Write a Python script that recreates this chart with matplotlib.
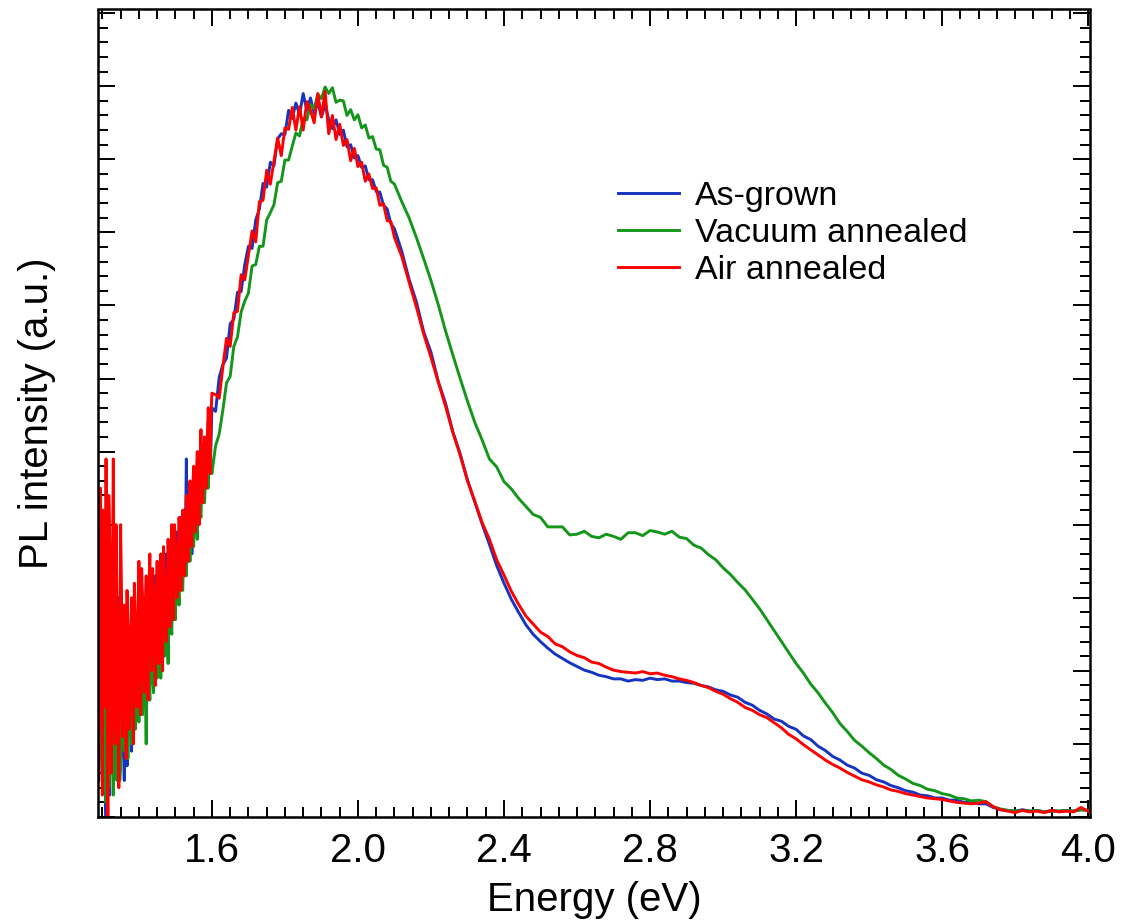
import matplotlib
matplotlib.use("Agg")
import matplotlib.pyplot as plt
from matplotlib.ticker import MultipleLocator, FormatStrFormatter, NullFormatter

plt.rcParams["font.family"] = ["Liberation Sans", "DejaVu Sans"]

# photon energy (eV): noisy low-energy part (two interleaved sets), peak part, high-energy part
energy_low = [1.290, 1.295, 1.300, 1.305, 1.310, 1.315, 1.320, 1.325, 1.330, 1.335,
              1.340, 1.345, 1.350, 1.355, 1.360, 1.365, 1.370, 1.375, 1.380, 1.385,
              1.390, 1.395, 1.400, 1.405, 1.410, 1.415, 1.420, 1.425, 1.430, 1.435,
              1.440, 1.445, 1.450, 1.455, 1.460, 1.465, 1.470, 1.475, 1.480, 1.485,
              1.490, 1.495, 1.500, 1.505, 1.510, 1.515, 1.520, 1.525, 1.530, 1.535,
              1.540, 1.545, 1.550, 1.555, 1.560, 1.565, 1.570, 1.575, 1.580, 1.585,
              1.590, 1.595, 1.600]
energy_low_b = [1.2925, 1.2975, 1.3025, 1.3075, 1.3125, 1.3175, 1.3225, 1.3275, 1.3325, 1.3375,
                1.3425, 1.3475, 1.3525, 1.3575, 1.3625, 1.3675, 1.3725, 1.3775, 1.3825, 1.3875,
                1.3925, 1.3975, 1.4025, 1.4075, 1.4125, 1.4175, 1.4225, 1.4275, 1.4325, 1.4375,
                1.4425, 1.4475, 1.4525, 1.4575, 1.4625, 1.4675, 1.4725, 1.4775, 1.4825, 1.4875,
                1.4925, 1.4975, 1.5025, 1.5075, 1.5125, 1.5175, 1.5225, 1.5275, 1.5325, 1.5375,
                1.5425, 1.5475, 1.5525, 1.5575, 1.5625, 1.5675, 1.5725, 1.5775, 1.5825, 1.5875,
                1.5925, 1.5975]
energy_mid = [1.61, 1.62, 1.63, 1.64, 1.65, 1.66, 1.67, 1.68, 1.69, 1.70,
              1.71, 1.72, 1.73, 1.74, 1.75, 1.76, 1.77, 1.78, 1.79, 1.80,
              1.81, 1.82, 1.83, 1.84, 1.85, 1.86, 1.87, 1.88, 1.89, 1.90,
              1.91, 1.92, 1.93, 1.94, 1.95, 1.96, 1.97, 1.98, 1.99, 2.00,
              2.01, 2.02, 2.03, 2.04, 2.05, 2.06, 2.07, 2.08, 2.09, 2.10]
energy_high = [2.12, 2.14, 2.16, 2.18, 2.20, 2.22, 2.24, 2.26, 2.28, 2.30,
               2.32, 2.34, 2.36, 2.38, 2.40, 2.42, 2.44, 2.46, 2.48, 2.50,
               2.52, 2.54, 2.56, 2.58, 2.60, 2.62, 2.64, 2.66, 2.68, 2.70,
               2.72, 2.74, 2.76, 2.78, 2.80, 2.82, 2.84, 2.86, 2.88, 2.90,
               2.92, 2.94, 2.96, 2.98, 3.00, 3.02, 3.04, 3.06, 3.08, 3.10,
               3.12, 3.14, 3.16, 3.18, 3.20, 3.22, 3.24, 3.26, 3.28, 3.30,
               3.32, 3.34, 3.36, 3.38, 3.40, 3.42, 3.44, 3.46, 3.48, 3.50,
               3.52, 3.54, 3.56, 3.58, 3.60, 3.62, 3.64, 3.66, 3.68, 3.70,
               3.72, 3.74, 3.76, 3.78, 3.80, 3.82, 3.84, 3.86, 3.88, 3.90,
               3.92, 3.94, 3.96, 3.98, 4.00]

# As-grown
asgrown_low = [0.05, 0.33, 0.08, 0.28, 0.00, 0.34, 0.03, 0.30, 0.10, 0.34,
               0.06, 0.26, 0.08, 0.25, 0.05, 0.24, 0.10, 0.26, 0.09, 0.25,
               0.13, 0.27, 0.14, 0.28, 0.16, 0.30, 0.17, 0.31, 0.18, 0.32,
               0.20, 0.33, 0.21, 0.34, 0.22, 0.35, 0.24, 0.36, 0.22, 0.37,
               0.28, 0.38, 0.30, 0.39, 0.31, 0.41, 0.33, 0.42, 0.49, 0.35,
               0.44, 0.36, 0.46, 0.39, 0.48, 0.41, 0.50, 0.43, 0.52, 0.45,
               0.54, 0.47, 0.56]
asgrown_low_b = [0.20, 0.12, 0.30, 0.06, 0.22, 0.10, 0.27, 0.14, 0.24, 0.18,
                 0.30, 0.12, 0.20, 0.10, 0.18, 0.07, 0.20, 0.15, 0.21, 0.17,
                 0.23, 0.19, 0.25, 0.20, 0.26, 0.22, 0.28, 0.24, 0.27, 0.25,
                 0.29, 0.26, 0.30, 0.27, 0.31, 0.29, 0.33, 0.30, 0.28, 0.32,
                 0.35, 0.33, 0.36, 0.35, 0.38, 0.36, 0.39, 0.38, 0.40, 0.41,
                 0.42, 0.40, 0.44, 0.43, 0.46, 0.45, 0.48, 0.47, 0.50, 0.49,
                 0.52, 0.51]
asgrown_mid = [0.555, 0.602, 0.619, 0.628, 0.675, 0.681, 0.718, 0.719, 0.756, 0.781,
               0.778, 0.817, 0.832, 0.867, 0.862, 0.896, 0.891, 0.928, 0.935, 0.934,
               0.967, 0.956, 0.977, 0.961, 0.990, 0.967, 0.984, 0.963, 0.978, 0.958,
               0.975, 0.954, 0.942, 0.954, 0.934, 0.940, 0.917, 0.920, 0.902, 0.905,
               0.889, 0.891, 0.872, 0.872, 0.856, 0.855, 0.837, 0.832, 0.812, 0.805]
asgrown_high = [0.774, 0.736, 0.705, 0.664, 0.636, 0.596, 0.566, 0.527, 0.497, 0.461,
                0.431, 0.401, 0.373, 0.344, 0.320, 0.298, 0.280, 0.263, 0.250, 0.240,
                0.231, 0.223, 0.217, 0.211, 0.206, 0.201, 0.198, 0.194, 0.192, 0.189,
                0.189, 0.186, 0.188, 0.187, 0.190, 0.188, 0.189, 0.186, 0.186, 0.184,
                0.183, 0.180, 0.178, 0.174, 0.172, 0.167, 0.164, 0.157, 0.153, 0.146,
                0.141, 0.134, 0.131, 0.124, 0.120, 0.111, 0.106, 0.097, 0.091, 0.083,
                0.078, 0.071, 0.067, 0.060, 0.057, 0.051, 0.048, 0.043, 0.040, 0.036,
                0.034, 0.030, 0.029, 0.026, 0.026, 0.023, 0.023, 0.020, 0.020, 0.018,
                0.018, 0.013, 0.010, 0.009, 0.008, 0.010, 0.008, 0.009, 0.007, 0.009,
                0.008, 0.009, 0.008, 0.010, 0.009]

# Vacuum annealed
vacuum_low = [0.10, 0.30, 0.05, 0.25, 0.02, 0.30, 0.06, 0.22, 0.03, 0.20,
              0.05, 0.28, 0.07, 0.22, 0.09, 0.20, 0.08, 0.24, 0.10, 0.22,
              0.12, 0.24, 0.13, 0.23, 0.14, 0.25, 0.10, 0.26, 0.16, 0.27,
              0.17, 0.28, 0.19, 0.29, 0.19, 0.30, 0.22, 0.31, 0.21, 0.33,
              0.25, 0.34, 0.27, 0.36, 0.29, 0.37, 0.31, 0.39, 0.33, 0.41,
              0.35, 0.42, 0.37, 0.44, 0.38, 0.46, 0.41, 0.48, 0.43, 0.50,
              0.45, 0.51, 0.47]
vacuum_low_b = [0.18, 0.08, 0.22, 0.10, 0.16, 0.04, 0.20, 0.09, 0.15, 0.06,
                0.14, 0.05, 0.16, 0.12, 0.17, 0.13, 0.18, 0.14, 0.20, 0.15,
                0.18, 0.19, 0.20, 0.17, 0.21, 0.18, 0.22, 0.19, 0.23, 0.21,
                0.24, 0.22, 0.25, 0.24, 0.26, 0.25, 0.28, 0.26, 0.29, 0.28,
                0.31, 0.30, 0.33, 0.32, 0.34, 0.33, 0.36, 0.35, 0.38, 0.37,
                0.39, 0.38, 0.41, 0.40, 0.43, 0.42, 0.45, 0.44, 0.47, 0.46,
                0.49, 0.48]
vacuum_mid = [0.508, 0.524, 0.557, 0.594, 0.603, 0.644, 0.657, 0.691, 0.706, 0.717,
              0.754, 0.756, 0.781, 0.781, 0.817, 0.827, 0.838, 0.868, 0.870, 0.899,
              0.899, 0.918, 0.936, 0.932, 0.956, 0.954, 0.975, 0.969, 0.989, 0.983,
              0.999, 0.990, 0.998, 0.978, 0.981, 0.980, 0.960, 0.968, 0.954, 0.961,
              0.943, 0.947, 0.929, 0.931, 0.914, 0.913, 0.892, 0.889, 0.870, 0.866]
vacuum_high = [0.842, 0.820, 0.793, 0.764, 0.734, 0.701, 0.665, 0.632, 0.600, 0.569,
               0.540, 0.516, 0.490, 0.479, 0.459, 0.449, 0.436, 0.425, 0.414, 0.410,
               0.397, 0.397, 0.397, 0.386, 0.387, 0.391, 0.384, 0.382, 0.387, 0.384,
               0.380, 0.389, 0.389, 0.385, 0.392, 0.390, 0.387, 0.391, 0.383, 0.381,
               0.372, 0.368, 0.359, 0.352, 0.341, 0.332, 0.321, 0.311, 0.298, 0.285,
               0.270, 0.255, 0.240, 0.225, 0.210, 0.197, 0.182, 0.170, 0.156, 0.143,
               0.128, 0.117, 0.105, 0.097, 0.088, 0.080, 0.071, 0.065, 0.057, 0.052,
               0.046, 0.043, 0.038, 0.036, 0.032, 0.030, 0.026, 0.025, 0.022, 0.023,
               0.021, 0.014, 0.011, 0.009, 0.008, 0.009, 0.008, 0.009, 0.007, 0.008,
               0.008, 0.009, 0.008, 0.010, 0.009]

# Air annealed
air_low = [0.12, 0.45, 0.03, 0.30, 0.49, 0.00, 0.38, 0.06, 0.49, 0.10,
           0.27, 0.04, 0.40, 0.11, 0.29, 0.08, 0.24, 0.13, 0.30, 0.10,
           0.27, 0.15, 0.35, 0.14, 0.30, 0.17, 0.33, 0.16, 0.36, 0.20,
           0.31, 0.18, 0.35, 0.21, 0.36, 0.20, 0.33, 0.24, 0.38, 0.26,
           0.40, 0.27, 0.37, 0.30, 0.41, 0.31, 0.42, 0.33, 0.44, 0.35,
           0.46, 0.37, 0.48, 0.39, 0.50, 0.40, 0.53, 0.43, 0.52, 0.45,
           0.56, 0.47, 0.58]
air_low_b = [0.28, 0.20, 0.42, 0.15, 0.26, 0.44, 0.18, 0.33, 0.22, 0.40,
             0.16, 0.24, 0.30, 0.14, 0.22, 0.31, 0.12, 0.26, 0.19, 0.32,
             0.20, 0.28, 0.23, 0.34, 0.21, 0.29, 0.24, 0.31, 0.26, 0.34,
             0.25, 0.30, 0.27, 0.33, 0.26, 0.37, 0.29, 0.31, 0.33, 0.35,
             0.32, 0.40, 0.34, 0.36, 0.38, 0.35, 0.40, 0.37, 0.41, 0.43,
             0.40, 0.45, 0.43, 0.47, 0.44, 0.49, 0.47, 0.50, 0.49, 0.52,
             0.51, 0.55]
air_mid = [0.578, 0.573, 0.616, 0.655, 0.644, 0.690, 0.692, 0.742, 0.735, 0.769,
           0.802, 0.787, 0.842, 0.844, 0.885, 0.866, 0.898, 0.929, 0.905, 0.943,
           0.941, 0.971, 0.940, 0.972, 0.940, 0.979, 0.967, 0.950, 0.990, 0.958,
           0.993, 0.935, 0.960, 0.927, 0.948, 0.919, 0.927, 0.898, 0.915, 0.890,
           0.896, 0.870, 0.880, 0.860, 0.861, 0.837, 0.839, 0.816, 0.815, 0.793]
air_high = [0.767, 0.732, 0.698, 0.661, 0.629, 0.595, 0.562, 0.526, 0.495, 0.460,
            0.432, 0.403, 0.380, 0.352, 0.331, 0.309, 0.291, 0.275, 0.264, 0.253,
            0.247, 0.237, 0.233, 0.226, 0.221, 0.218, 0.212, 0.210, 0.205, 0.201,
            0.199, 0.198, 0.197, 0.199, 0.196, 0.197, 0.194, 0.192, 0.189, 0.187,
            0.184, 0.180, 0.177, 0.172, 0.168, 0.162, 0.157, 0.150, 0.146, 0.140,
            0.136, 0.129, 0.122, 0.113, 0.107, 0.099, 0.092, 0.085, 0.078, 0.072,
            0.067, 0.061, 0.056, 0.051, 0.048, 0.044, 0.041, 0.037, 0.035, 0.032,
            0.030, 0.028, 0.026, 0.025, 0.024, 0.022, 0.020, 0.019, 0.018, 0.019,
            0.021, 0.014, 0.010, 0.008, 0.006, 0.009, 0.007, 0.008, 0.006, 0.009,
            0.007, 0.008, 0.007, 0.013, 0.008]

labels = ["As-grown", "Vacuum annealed", "Air annealed"]
colors = ["#1535c0", "#14961a", "#ff0000"]

low_sets = [(asgrown_low, asgrown_low_b), (vacuum_low, vacuum_low_b), (air_low, air_low_b)]
rest_sets = [asgrown_mid + asgrown_high, vacuum_mid + vacuum_high, air_mid + air_high]

fig = plt.figure(figsize=(11.23, 9.22), dpi=100)
ax = fig.add_axes([98 / 1123, 1 - 817 / 922, 992 / 1123, 807.5 / 922])

for (la, lb), rest, lab, c in zip(low_sets, rest_sets, labels, colors):
    pts = sorted(zip(energy_low + energy_low_b, la + lb))
    x = [p[0] for p in pts] + energy_mid + energy_high
    y = [p[1] for p in pts] + rest
    ax.plot(x, y, color=c, lw=2.1, label=lab)

ax.set_xlim(1.288, 4.005)
ax.set_ylim(0, 1.105)

ax.xaxis.set_major_locator(MultipleLocator(0.4))
ax.xaxis.set_minor_locator(MultipleLocator(0.05))
ax.xaxis.set_major_formatter(FormatStrFormatter("%.1f"))
ax.yaxis.set_major_locator(MultipleLocator(0.1))
ax.yaxis.set_minor_locator(MultipleLocator(0.02))
ax.yaxis.set_major_formatter(NullFormatter())

ax.tick_params(which="both", direction="in", top=True, right=True, width=1.4)
ax.tick_params(which="major", length=12.5, labelsize=29, pad=11)
ax.tick_params(which="minor", length=7)
for s in ax.spines.values():
    s.set_linewidth(1.8)

ax.set_xlabel("Energy (eV)", fontsize=29, labelpad=8)
ax.set_ylabel("PL intensity (a.u.)", fontsize=29, labelpad=19)

ax.legend(loc="upper left", bbox_to_anchor=(618 / 1123, 1 - 181 / 922),
          bbox_transform=fig.transFigure, frameon=False, fontsize=24.5,
          handlelength=1.8, handletextpad=0.45, labelspacing=0.17,
          borderpad=0, borderaxespad=0)

fig.savefig("out.png", dpi=100)
